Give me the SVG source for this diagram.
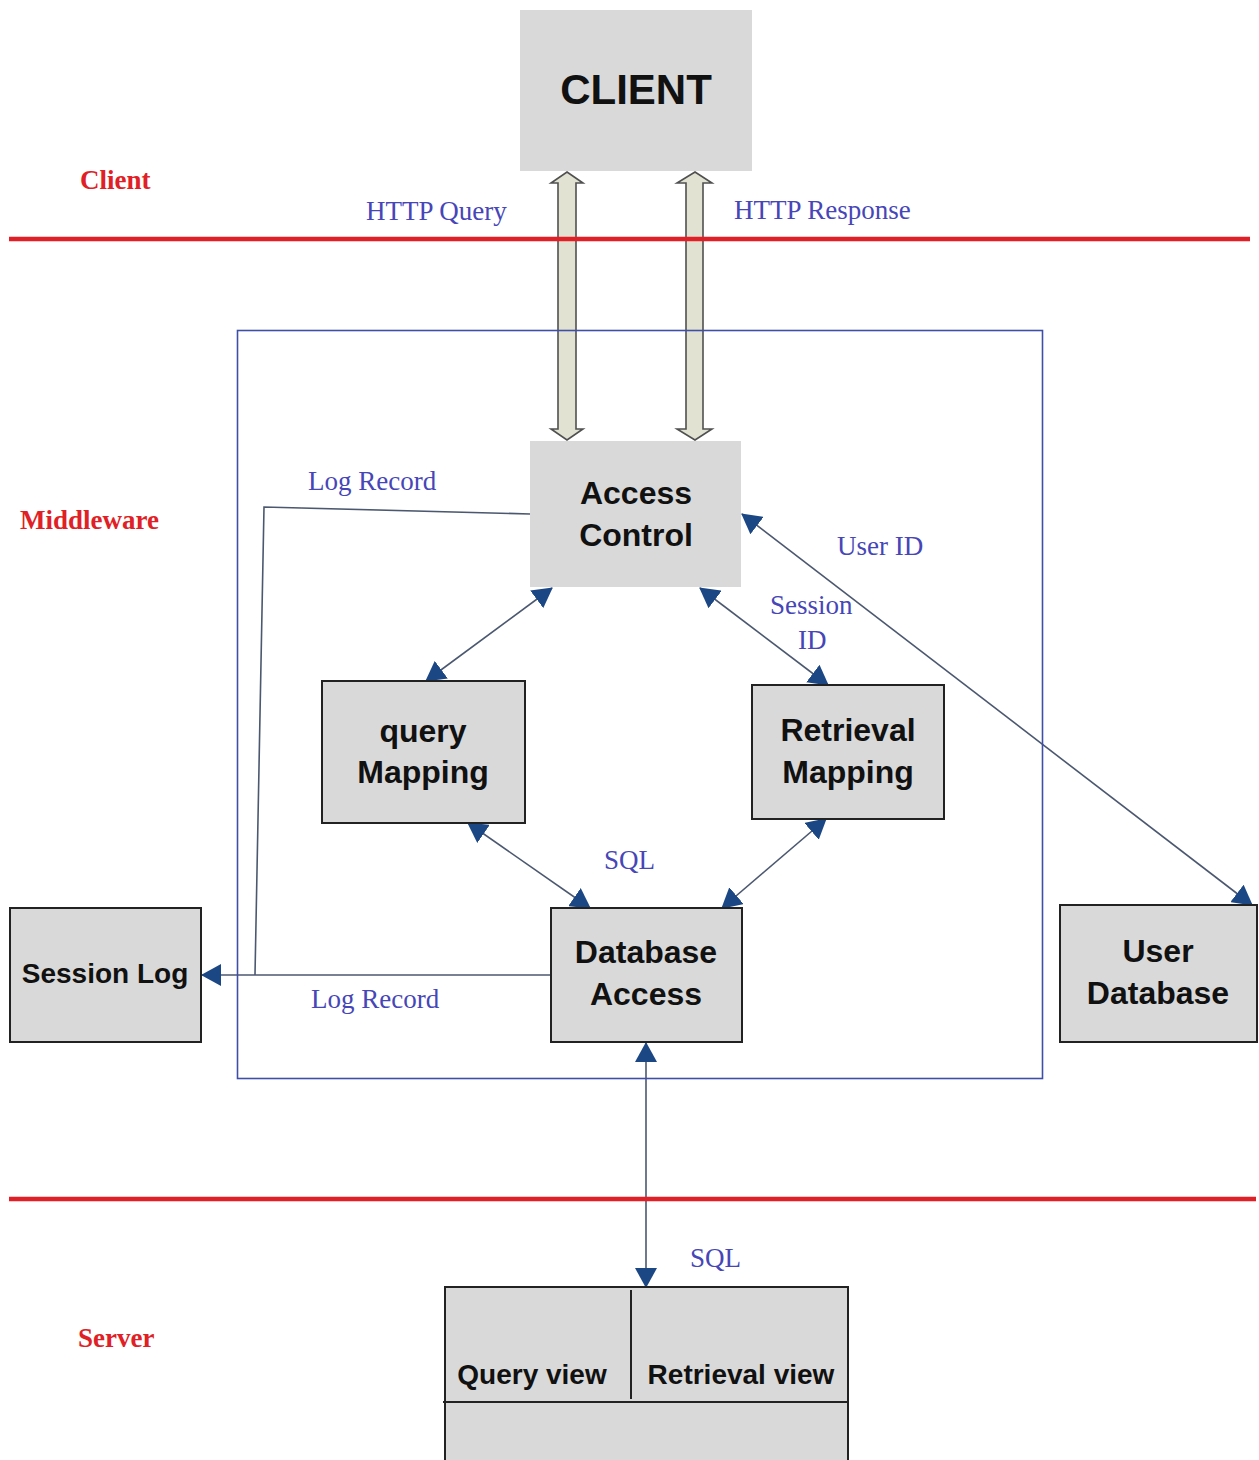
<svg xmlns="http://www.w3.org/2000/svg" width="1259" height="1460" viewBox="0 0 1259 1460">
<style>
.box{fill:#d9d9d9;stroke:#222;stroke-width:2}
.plain{fill:#d9d9d9;stroke:none}
.bt{font-family:"Liberation Sans",Arial,sans-serif;font-weight:bold;fill:#111;text-anchor:middle}
.lbl{font-family:"Liberation Serif","Times New Roman",serif;font-size:27px;fill:#4646b8}
.zone{font-family:"Liberation Serif","Times New Roman",serif;font-size:27px;font-weight:bold;fill:#e01f26}
.red{stroke:#e01f26;stroke-width:4.5}
.conn{stroke:#4b5870;stroke-width:1.6;fill:none}
.blk{fill:#e2e2d2;stroke:#505050;stroke-width:1.6}
</style>
<defs>
<marker id="ah" viewBox="0 0 20 22" refX="19" refY="11" markerWidth="20" markerHeight="22" markerUnits="userSpaceOnUse" orient="auto-start-reverse">
<path d="M0,0 L20,11 L0,22 z" fill="#1c4785"/>
</marker>
</defs>
<rect width="1259" height="1460" fill="#fff"/>

<g id="zones">
<text class="zone" x="80" y="189">Client</text>
<text class="zone" x="20" y="529">Middleware</text>
<text class="zone" x="78" y="1347">Server</text>
</g>

<g id="client">
<rect class="plain" x="520" y="10" width="232" height="161"/>
<text class="bt" x="636" y="104" font-size="42">CLIENT</text>
</g>

<g id="connectors">
<polygon class="blk" points="567,172 583,183 576,183 576,429 583,429 567,440 551,429 558,429 558,183 551,183"/>
<polygon class="blk" points="695,172 712,183 703,183 703,429 712,429 695,440 677,429 686,429 686,183 677,183"/>
<line class="conn" x1="552" y1="588" x2="426" y2="681" marker-start="url(#ah)" marker-end="url(#ah)"/>
<line class="conn" x1="700" y1="588" x2="828" y2="685" marker-start="url(#ah)" marker-end="url(#ah)"/>
<line class="conn" x1="742" y1="514" x2="1252" y2="905" marker-start="url(#ah)" marker-end="url(#ah)"/>
<line class="conn" x1="468" y1="823" x2="590" y2="908" marker-start="url(#ah)" marker-end="url(#ah)"/>
<line class="conn" x1="826" y1="819" x2="722" y2="908" marker-start="url(#ah)" marker-end="url(#ah)"/>
<line class="conn" x1="646" y1="1043" x2="646" y2="1287" marker-start="url(#ah)" marker-end="url(#ah)"/>
<polyline class="conn" points="530,514 264,507 255,975"/>
<line class="conn" x1="551" y1="975" x2="202" y2="975" marker-end="url(#ah)"/>
</g>

<g id="lines">
<line class="red" x1="9" y1="239" x2="1250" y2="239"/>
<line class="red" x1="9" y1="1199" x2="1256" y2="1199"/>
<rect x="237.5" y="330.5" width="805" height="748" fill="none" stroke="#3f4fa8" stroke-width="1.6"/>
</g>

<g id="labels">
<text class="lbl" x="366" y="220">HTTP Query</text>
<text class="lbl" x="734" y="219">HTTP Response</text>
<text class="lbl" x="308" y="490">Log Record</text>
<text class="lbl" x="837" y="555">User ID</text>
<text class="lbl" x="770" y="614">Session</text>
<text class="lbl" x="798" y="649">ID</text>
<text class="lbl" x="604" y="869">SQL</text>
<text class="lbl" x="311" y="1008">Log Record</text>
<text class="lbl" x="690" y="1267">SQL</text>
</g>

<g id="access-control">
<rect class="plain" x="530" y="441" width="211" height="146"/>
<text class="bt" x="636" y="504" font-size="32">Access</text>
<text class="bt" x="636" y="546" font-size="32">Control</text>
</g>

<g id="query-mapping">
<rect class="box" x="322" y="681" width="203" height="142"/>
<text class="bt" x="423" y="742" font-size="32">query</text>
<text class="bt" x="423" y="783" font-size="32">Mapping</text>
</g>

<g id="retrieval-mapping">
<rect class="box" x="752" y="685" width="192" height="134"/>
<text class="bt" x="848" y="741" font-size="32">Retrieval</text>
<text class="bt" x="848" y="783" font-size="32">Mapping</text>
</g>

<g id="database-access">
<rect class="box" x="551" y="908" width="191" height="134"/>
<text class="bt" x="646" y="963" font-size="32">Database</text>
<text class="bt" x="646" y="1005" font-size="32">Access</text>
</g>

<g id="session-log">
<rect class="box" x="10" y="908" width="191" height="134"/>
<text class="bt" x="105" y="983" font-size="28">Session Log</text>
</g>

<g id="user-database">
<rect class="box" x="1060" y="905" width="197" height="137"/>
<text class="bt" x="1158" y="962" font-size="32">User</text>
<text class="bt" x="1158" y="1004" font-size="32">Database</text>
</g>

<g id="server">
<rect class="box" x="445" y="1287" width="403" height="180"/>
<line x1="631" y1="1290" x2="631" y2="1399" stroke="#222" stroke-width="2"/>
<line x1="443" y1="1402" x2="848" y2="1402" stroke="#222" stroke-width="2"/>
<text class="bt" x="532" y="1384" font-size="28">Query view</text>
<text class="bt" x="741" y="1384" font-size="28">Retrieval view</text>
</g>
</svg>
